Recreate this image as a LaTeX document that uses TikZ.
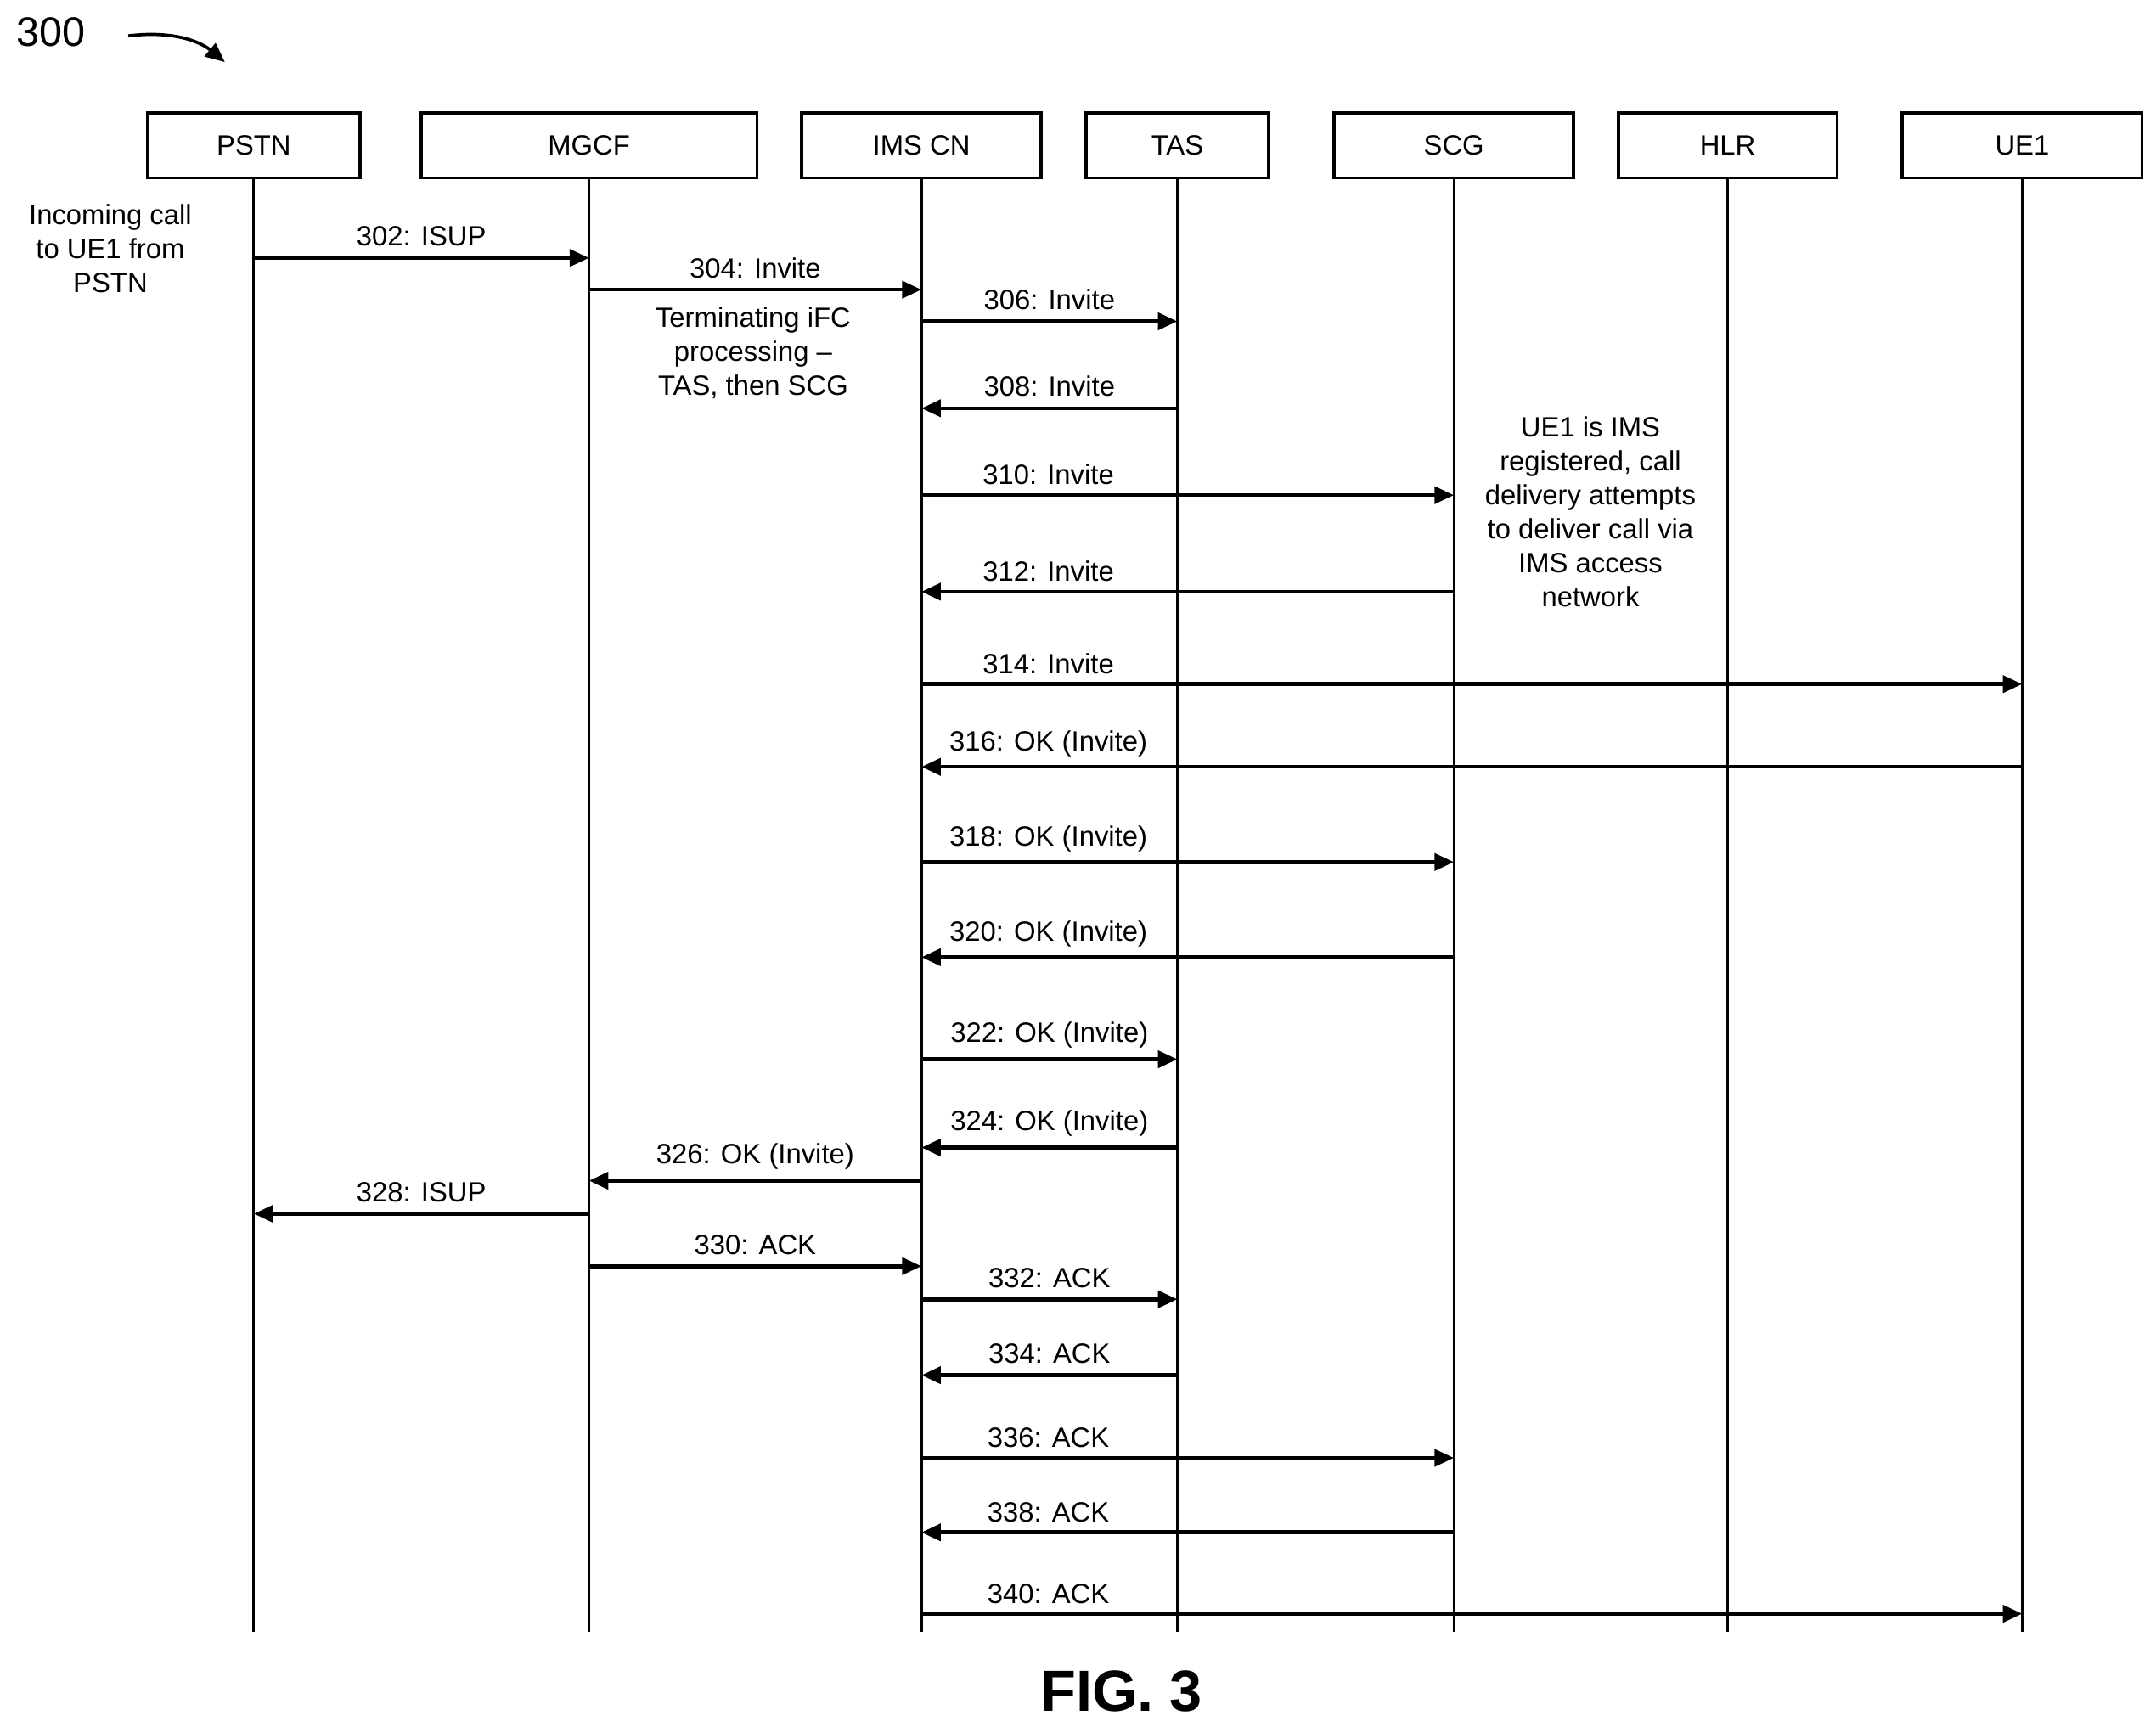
\documentclass[tikz,border=0pt]{standalone}
\usepackage{fontspec}
\setmainfont{Liberation Sans}
\usetikzlibrary{arrows.meta}
\begin{document}
\begin{tikzpicture}[x=0.02cm,y=-0.02cm,
  ent/.style={draw,line width=1.3pt,minimum height=0.94cm,inner sep=0pt,font=\fontsize{11.5}{13}\selectfont},
  life/.style={line width=1pt},
  msg/.style={line width=1.6pt,-{Triangle[length=8pt,width=7pt]}},
  lab/.style={font=\fontsize{11.5}{13}\selectfont,above,inner sep=4pt},
  note/.style={font=\fontsize{11.5}{14}\selectfont,align=center}]
\useasboundingbox (0,0) rectangle (1563,1252);
\node[font=\fontsize{17}{19}\selectfont] (n300) at (37,23) {300};
\coordinate (ca) at (93,26); \coordinate (cb) at (163,45);
\draw[line width=1.3pt,-{Triangle[length=8pt,width=7pt]}] (ca) .. controls (125,22) and (145,30) .. (cb);
\foreach \n/\t/\l/\r in {pstn/PSTN/106/262, mgcf/MGCF/304/550, ims/IMS CN/580/756, tas/TAS/786/921, scg/SCG/966/1142, hlr/HLR/1172/1333, ue/UE1/1378/1554}{
  \node[ent,minimum width={(\r-\l)*0.02cm-1.3pt}] (\n) at ({(\l+\r)/2},105.5) {\t};
  \coordinate (\n E) at ({(\l+\r)/2},1183);
  \draw[life] (\n) -- (\n E);
}
\newcommand{\mm}[5]{% from, to, y, label, name
  \coordinate (#5a) at (#1 |- 0,#3); \coordinate (#5b) at (#2 |- 0,#3);
  \draw[msg] (#5a) -- node[lab] {#4} (#5b);}
\newcommand{\ml}[5]{% label placed near IMS
  \coordinate (#5a) at (#1 |- 0,#3); \coordinate (#5b) at (#2 |- 0,#3);
  \draw[msg] (#5a) -- (#5b);
  \node[lab] (#5l) at (760,#3) {#4};}
\mm{pstn}{mgcf}{187}{302: ISUP}{m302}
\mm{mgcf}{ims}{210}{304: Invite}{m304}
\mm{ims}{tas}{233}{306: Invite}{m306}
\mm{tas}{ims}{296}{308: Invite}{m308}
\ml{ims}{scg}{359}{310: Invite}{m310}
\ml{scg}{ims}{429}{312: Invite}{m312}
\ml{ims}{ue}{496}{314: Invite}{m314}
\ml{ue}{ims}{556}{316: OK (Invite)}{m316}
\ml{ims}{scg}{625}{318: OK (Invite)}{m318}
\ml{scg}{ims}{694}{320: OK (Invite)}{m320}
\mm{ims}{tas}{768}{322: OK (Invite)}{m322}
\mm{tas}{ims}{832}{324: OK (Invite)}{m324}
\mm{ims}{mgcf}{856}{326: OK (Invite)}{m326}
\mm{mgcf}{pstn}{880}{328: ISUP}{m328}
\mm{mgcf}{ims}{918}{330: ACK}{m330}
\mm{ims}{tas}{942}{332: ACK}{m332}
\mm{tas}{ims}{997}{334: ACK}{m334}
\ml{ims}{scg}{1057}{336: ACK}{m336}
\ml{scg}{ims}{1111}{338: ACK}{m338}
\ml{ims}{ue}{1170}{340: ACK}{m340}
\node[note] (t1) at (80,180) {Incoming call\\to UE1 from\\PSTN};
\node[note] (t2) at (546,256) {Terminating iFC\\processing –\\TAS, then SCG};
\node[note] (t3) at (1153,371) {UE1 is IMS\\registered, call\\delivery attempts\\to deliver call via\\IMS access\\network};
\node[font=\fontsize{24}{26}\selectfont\bfseries] (fig) at (813,1226) {FIG. 3};
\end{tikzpicture}
\end{document}
